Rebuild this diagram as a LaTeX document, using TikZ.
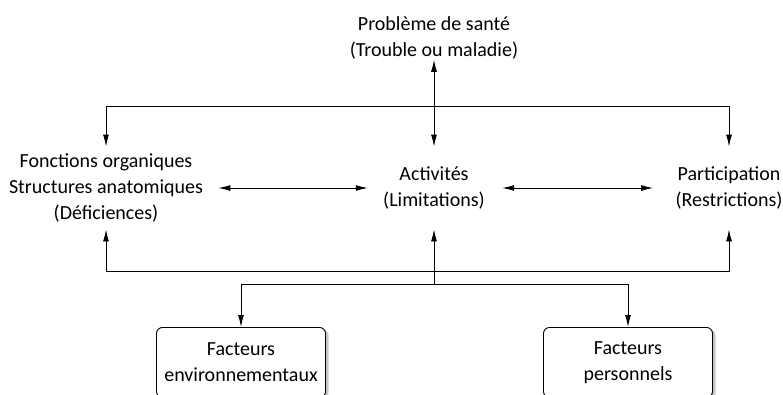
\documentclass[tikz,border=0pt]{standalone}
\usepackage{fontspec}
\setmainfont{Carlito}
\usetikzlibrary{arrows.meta}
\usetikzlibrary{shadows}
\usetikzlibrary{positioning}

\begin{document}
\begin{tikzpicture}[x=1pt, y=-1pt, >={Latex[length=12pt,width=6pt]}, line width=0.9pt,
    txt/.style={align=center, font=\fontsize{20}{26}\selectfont, inner sep=0pt},
    level/.style={txt, minimum height=82pt},
    factor/.style={txt, draw, rounded corners=6pt, fill=white, anchor=north,
      minimum width=169pt, minimum height=70pt,
      drop shadow={shadow xshift=3pt, shadow yshift=-2pt, opacity=0.45}}]
      \useasboundingbox (0,0) rectangle (783,394);
      \clip (0,0) rectangle (783,394);
      \node[txt] (sante) at (434,38) {Problème de santé\\(Trouble ou maladie)};
      \node[level] (fonc) at (106,188) {Fonctions organiques\\Structures anatomiques\\(Déficiences)};
      \node[level] (activ) at (434,188) {Activités\\(Limitations)};
      \node[level] (part) at (729,188) {Participation\\(Restrictions)};
      \node[factor] (envir) at (241,327) {Facteurs\\environnementaux};
      \node[factor] (perso) at (628,327) {Facteurs\\personnels};
      \coordinate (top) at (434,106);
      \coordinate (low) at (434,271);
      \coordinate (hub) at (434,284);
      % upper level
      \draw[<->] (sante) -- (activ);
      \draw[->] (top) -| (fonc.north);
      \draw[->] (top) -| (part.north);
      \draw[<->, shorten <=15pt, shorten >=15pt] (fonc) -- (activ);
      \draw[<->, shorten <=17pt, shorten >=22pt] (activ) -- (part);
      % lower level
      \draw[->] (hub) -- (activ.south);
      \draw[->] (low) -| (fonc.south);
      \draw[->] (low) -| (part.south);
      \draw[->] (hub) -| (envir.north);
      \draw[->] (hub) -| (perso.north);
\end{tikzpicture}
\end{document}
